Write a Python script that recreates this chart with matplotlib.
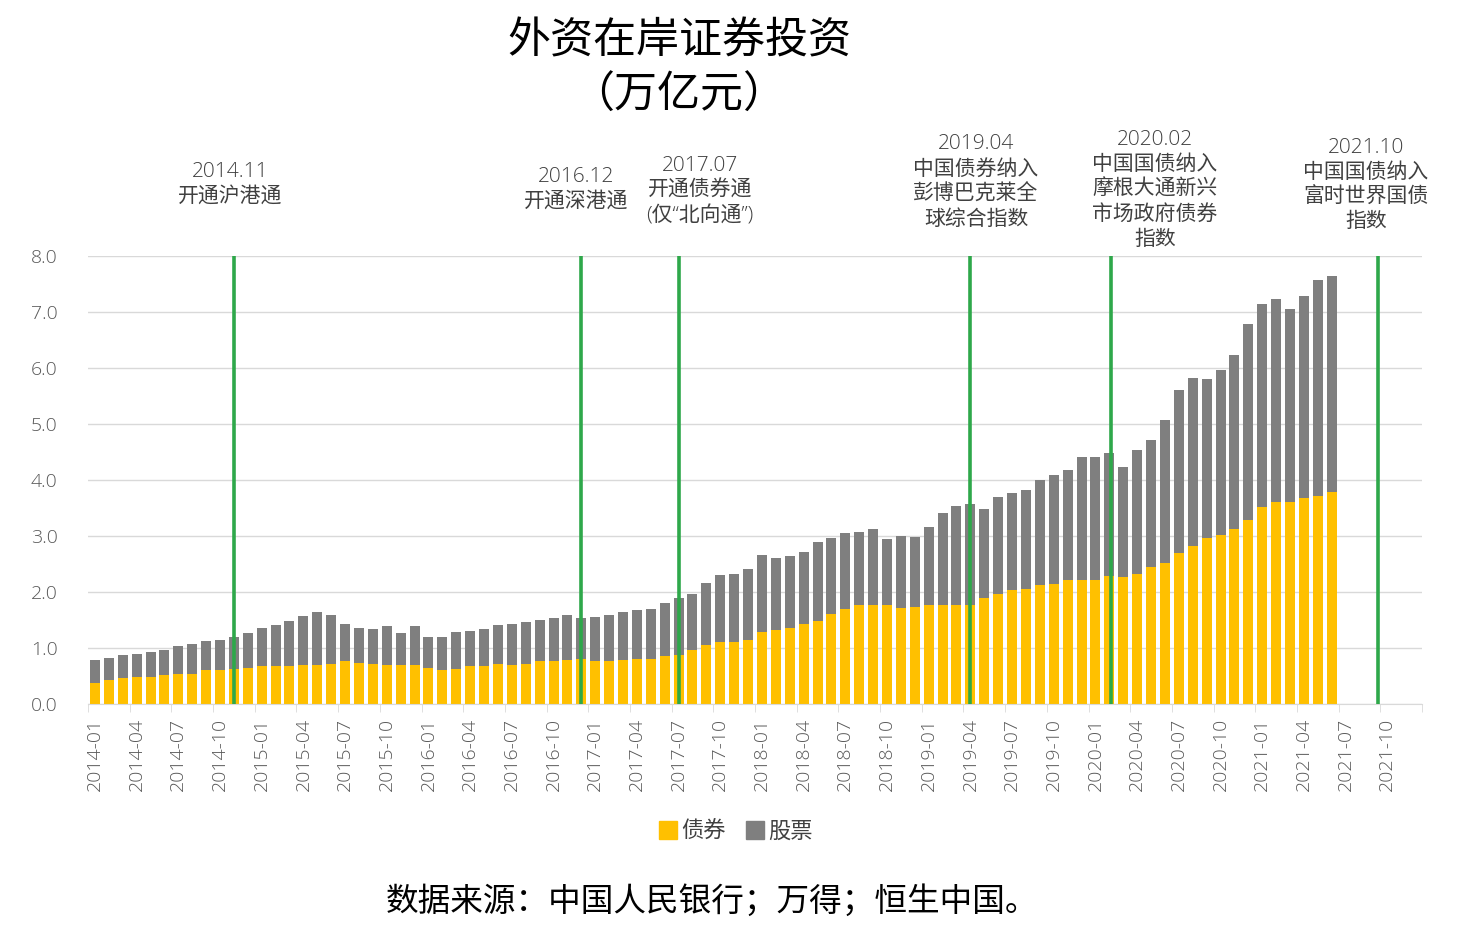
import matplotlib
matplotlib.use("Agg")
import matplotlib.pyplot as plt
from matplotlib.lines import Line2D
import numpy as np
import pandas as pd

plt.rcParams['font.family'] = ['Noto Sans CJK SC', 'DejaVu Sans']
LATIN_FIRST = ['Open Sans', 'Noto Sans CJK SC', 'DejaVu Sans']

# monthly categories on the axis (bars only up to 2021-06)
months = [p.strftime('%Y-%m') for p in pd.period_range('2014-01', '2021-12', freq='M')]

# 债券 (bonds), 万亿元
bonds = [0.38, 0.42, 0.47, 0.49, 0.49, 0.51, 0.53, 0.54, 0.60, 0.60, 0.62, 0.64,
         0.67, 0.67, 0.67, 0.69, 0.70, 0.72, 0.76, 0.74, 0.72, 0.70, 0.70, 0.70,
         0.64, 0.61, 0.63, 0.67, 0.67, 0.72, 0.70, 0.72, 0.76, 0.77, 0.79, 0.81,
         0.77, 0.77, 0.79, 0.81, 0.81, 0.85, 0.88, 0.97, 1.06, 1.11, 1.11, 1.15,
         1.29, 1.33, 1.36, 1.42, 1.49, 1.61, 1.69, 1.76, 1.76, 1.76, 1.72, 1.74,
         1.76, 1.76, 1.77, 1.77, 1.90, 1.97, 2.04, 2.06, 2.13, 2.15, 2.22, 2.22,
         2.22, 2.29, 2.27, 2.33, 2.45, 2.52, 2.70, 2.83, 2.97, 3.02, 3.13, 3.29,
         3.51, 3.61, 3.61, 3.67, 3.72, 3.79]

# 股票 (stocks), 万亿元
stocks = [0.41, 0.41, 0.41, 0.40, 0.44, 0.45, 0.51, 0.53, 0.53, 0.54, 0.57, 0.63,
          0.69, 0.74, 0.81, 0.88, 0.94, 0.87, 0.67, 0.62, 0.62, 0.69, 0.57, 0.69,
          0.56, 0.59, 0.66, 0.63, 0.67, 0.69, 0.73, 0.74, 0.74, 0.77, 0.80, 0.73,
          0.78, 0.82, 0.85, 0.87, 0.89, 0.95, 1.01, 0.99, 1.10, 1.19, 1.21, 1.26,
          1.37, 1.28, 1.28, 1.29, 1.40, 1.35, 1.36, 1.31, 1.37, 1.19, 1.28, 1.24,
          1.40, 1.65, 1.77, 1.80, 1.58, 1.73, 1.73, 1.76, 1.87, 1.94, 1.96, 2.19,
          2.19, 2.19, 1.97, 2.20, 2.26, 2.55, 2.90, 2.99, 2.83, 2.94, 3.11, 3.49,
          3.63, 3.62, 3.44, 3.61, 3.85, 3.85]

# policy events: label, description, position on the month axis
event_labels = ['2014.11', '2016.12', '2017.07', '2019.04', '2020.02', '2021.10']
event_texts = ['开通沪港通',
               '开通深港通',
               '开通债券通\n(仅“北向通”)',
               '中国债券纳入\n彭博巴克莱全\n球综合指数',
               '中国国债纳入\n摩根大通新兴\n市场政府债券\n指数',
               '中国国债纳入\n富时世界国债\n指数']
event_x = [10, 35, 42, 63, 73.1, 92.3]
# where each text block sits (figure pixels, centre)
event_text_px = [(230, 184), (576, 189), (700, 191), (976, 182), (1155, 190), (1366, 185)]

YELLOW = '#FFC000'
GREY = '#7F7F7F'
GREEN = '#2EA84A'
TXT = '#404040'
TICK = '#595959'

W, H = 1476, 943
fig = plt.figure(figsize=(W / 100, H / 100), dpi=100)
ax = fig.add_axes([88 / W, 1 - 704 / H, (1422 - 88) / W, (704 - 256) / H])

x = np.arange(len(bonds))
ax.bar(x, bonds, width=0.72, color=YELLOW, label='债券', zorder=2)
ax.bar(x, stocks, width=0.72, bottom=bonds, color=GREY, label='股票', zorder=2)
ax.vlines(event_x, 0, 8, color=GREEN, linewidth=2.6, zorder=3)

ax.set_xlim(-0.5, len(months) - 0.5)
ax.set_ylim(0, 8)
ax.set_yticks(np.arange(0, 8.1, 1.0))
ax.set_yticklabels([f'{v:.1f}' for v in np.arange(0, 8.1, 1.0)],
                   family=LATIN_FIRST, weight='light')
ax.yaxis.grid(True, color='#D9D9D9', linewidth=1)
ax.set_axisbelow(True)

ax.set_xticks(np.arange(0, len(months), 3))
ax.set_xticklabels(months[::3], rotation=90, family=LATIN_FIRST, weight='light')
ax.set_xticks(np.arange(-0.5, len(months), 3), minor=True)
ax.tick_params(axis='x', which='major', length=0, pad=10, labelsize=14, labelcolor=TICK)
ax.tick_params(axis='x', which='minor', length=6, color='#D9D9D9')
ax.tick_params(axis='y', length=0, pad=22, labelsize=14, labelcolor=TICK)

for side in ['top', 'right', 'left']:
    ax.spines[side].set_visible(False)
ax.spines['bottom'].set_color('#D9D9D9')

for lab, txt, (px, py) in zip(event_labels, event_texts, event_text_px):
    fig.text(px / W, 1 - py / H, lab + '\n' + txt, ha='center', va='center',
             fontsize=15, color=TXT, linespacing=1.33, family=LATIN_FIRST, weight='light')

fig.text(679 / W, 1 - 69 / H, '外资在岸证券投资\n（万亿元）', ha='center', va='center',
         fontsize=31, color='black', linespacing=1.3)

handles = [Line2D([], [], marker='s', linestyle='', markersize=12.5, color=YELLOW),
           Line2D([], [], marker='s', linestyle='', markersize=12.5, color=GREY)]
fig.legend(handles, ['债券', '股票'], loc='center', bbox_to_anchor=(736 / W, 1 - 831 / H),
           ncol=2, frameon=False, fontsize=16, handlelength=0.8, handletextpad=0.2,
           columnspacing=0.9, labelcolor=TXT)

fig.text(712 / W, 1 - 901 / H, '数据来源：中国人民银行；万得；恒生中国。', ha='center', va='center',
         fontsize=23.5, color='black')

fig.savefig('out.png', dpi=100)
